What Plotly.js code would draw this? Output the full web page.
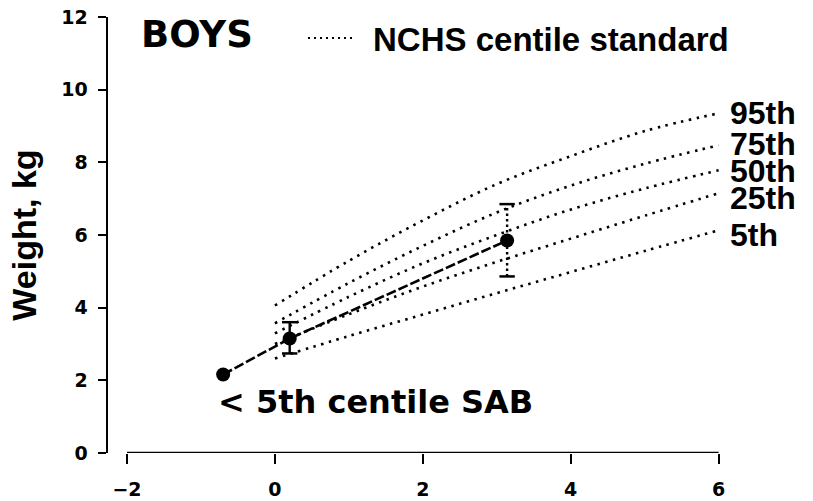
<!DOCTYPE html>
<html>
<head>
<meta charset="utf-8">
<script src="https://cdn.plot.ly/plotly-3.0.1.min.js"></script>
<style>html,body{margin:0;padding:0;background:#fff;}#chart{width:813px;height:501px;}</style>
</head>
<body>
<div id="chart"></div>
<script>
// Age (months) for NCHS centile curves
const months = [0, 1, 2, 3, 4, 5, 6];
// NCHS centile weights (kg)
const p95 = [4.06, 5.29, 6.40, 7.40, 8.17, 8.86, 9.35];
const p75 = [3.57, 4.68, 5.70, 6.62, 7.36, 7.96, 8.47];
const p50 = [3.29, 4.30, 5.22, 6.00, 6.70, 7.28, 7.78];
const p25 = [3.00, 3.82, 4.58, 5.26, 5.90, 6.53, 7.15];
const p5  = [2.60, 3.22, 3.81, 4.40, 4.98, 5.56, 6.13];
const centileNames = ["95th", "75th", "50th", "25th", "5th"];
const centileSeries = [p95, p75, p50, p25, p5];

// < 5th centile SAB group: mean and error-bar ends
const sabX  = [-0.70, 0.20, 3.14];
const sabY  = [2.16, 3.15, 5.85];
const sabHi = [null, 3.60, 6.85];
const sabLo = [null, 2.74, 4.86];

const xTicks = [-2, 0, 2, 4, 6];
const yTicks = [0, 2, 4, 6, 8, 10, 12];

const BOLD = "Liberation Sans, Arial, sans-serif";
const DJ = "DejaVu Sans, sans-serif";

const traces = [];
centileSeries.forEach((s, i) => {
  traces.push({
    x: months, y: s, type: "scatter", mode: "lines",
    name: centileNames[i], showlegend: false, hoverinfo: "skip",
    line: {color: "#000", width: 2.6, dash: "2.5px,5.5px", shape: "spline", smoothing: 1}
  });
});
// error bars
const barDash = [null, "solid", "2.5px,3px"];
sabX.forEach((x, i) => {
  if (sabHi[i] === null) return;
  traces.push({
    x: [x, x], y: [sabLo[i], sabHi[i]], type: "scatter", mode: "lines+markers",
    showlegend: false, hoverinfo: "skip",
    line: {color: "#000", width: 2.4, dash: barDash[i]},
    marker: {symbol: "line-ew", size: 11, color: "#000", line: {color: "#000", width: 2.5}}
  });
});
traces.push({
  x: sabX, y: sabY, type: "scatter", mode: "lines+markers", showlegend: false,
  line: {color: "#000", width: 2.6, dash: "10px,3px"},
  marker: {color: "#000", size: 14}
});

// label positions in pixels (style only)
const PX0 = 108, PW = 618, PY0 = 453, PH = 436;
const px = v => (v - PX0) / PW;
const py = v => (PY0 - v) / PH;
const labelPy = [113, 144, 171, 198, 235];
const annotations = centileNames.map((n, i) => ({
  text: n, xref: "paper", yref: "paper", x: px(728), y: py(labelPy[i]), xanchor: "left", yanchor: "middle",
  showarrow: false, font: {family: BOLD, size: 32, color: "#000", weight: "bold"}
}));
annotations.push({
  text: "BOYS", xref: "paper", yref: "paper", x: px(139), y: py(35),
  xanchor: "left", yanchor: "middle", showarrow: false,
  font: {family: DJ, size: 37, color: "#000", weight: "bold"}
});
annotations.push({
  text: "NCHS centile standard", xref: "paper", yref: "paper", x: px(371), y: py(40),
  xanchor: "left", yanchor: "middle", showarrow: false,
  font: {family: BOLD, size: 33, color: "#000", weight: "bold"}
});
annotations.push({
  text: "< 5th centile SAB", xref: "paper", yref: "paper", x: px(216), y: py(402),
  xanchor: "left", yanchor: "middle", showarrow: false,
  font: {family: DJ, size: 32, color: "#000", weight: "bold"}
});

const layout = {
  width: 813, height: 501,
  margin: {l: 108, r: 87, t: 17, b: 48, pad: 0},
  paper_bgcolor: "#fff", plot_bgcolor: "#fff",
  showlegend: false,
  xaxis: {
    range: [-2.257, 6.1], tickvals: xTicks, ticktext: xTicks.map(v => v < 0 ? "\u2212" + Math.abs(v) : String(v)),
    showgrid: false, zeroline: false, showline: false,
    ticks: "outside", ticklen: 10, tickwidth: 2, tickcolor: "#000",
    ticklabelstandoff: 9,
    tickfont: {family: DJ, size: 19, color: "#000", weight: "bold"}
  },
  yaxis: {
    range: [0, 12], tickvals: yTicks,
    showgrid: false, zeroline: false, showline: true, linewidth: 2.5, linecolor: "#000",
    ticks: "outside", ticklen: 8, tickwidth: 2, tickcolor: "#000",
    ticklabelstandoff: 6,
    tickfont: {family: DJ, size: 19, color: "#000", weight: "bold"},
    title: {text: "Weight, kg", standoff: 15, font: {family: BOLD, size: 34, color: "#000", weight: "bold"}}
  },
  shapes: [
    {type: "line", xref: "x", yref: "y", x0: -2, x1: 6, y0: 0, y1: 0, line: {color: "#000", width: 2.5}},
    {type: "line", xref: "paper", yref: "paper", x0: px(308), x1: px(355),
     y0: py(38), y1: py(38), line: {color: "#000", width: 2, dash: "2px,4px"}}
  ],
  annotations: annotations
};

Plotly.newPlot("chart", traces, layout, {staticPlot: true, displayModeBar: false});
</script>
</body>
</html>
